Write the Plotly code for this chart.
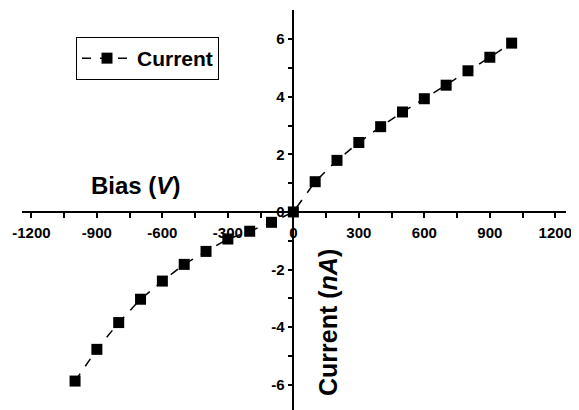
import plotly.graph_objects as go

bias = [-1000, -900, -800, -700, -600, -500, -400, -300, -200, -100, 0,
        100, 200, 300, 400, 500, 600, 700, 800, 900, 1000]
current = [-5.87, -4.77, -3.84, -3.03, -2.40, -1.82, -1.37, -0.94, -0.67, -0.36, 0.0,
           1.05, 1.79, 2.41, 2.96, 3.47, 3.93, 4.40, 4.90, 5.37, 5.86]

x_tickvals = [-1200, -900, -600, -300, 0, 300, 600, 900, 1200]
x_ticktext = ["-1200", "-900", "-600", "-300", "0", "300", "600", "900", "1200"]
x_minor = [-1050, -750, -450, -150, 150, 450, 750, 1050]
y_tickvals = [-6, -4, -2, 0, 2, 4, 6]
y_ticktext = ["-6", "-4", "-2", "0", "2", "4", "6"]
y_minor = [-5, -3, -1, 1, 3, 5]

x_range = [-1243, 1249]
y_range = [-6.875, 7.01]

FONT = "Liberation Sans, Arial, sans-serif"

fig = go.Figure()
fig.add_trace(go.Scatter(
    x=bias, y=current, mode="lines+markers", name="Current",
    line=dict(color="black", width=1.5, dash="dash"),
    marker=dict(symbol="square", size=11, color="black"),
))

xpos = (0 - y_range[0]) / (y_range[1] - y_range[0])
ypos = (0 - x_range[0]) / (x_range[1] - x_range[0])

axis_common = dict(
    showgrid=False, zeroline=False, showline=True, linecolor="black", linewidth=1.5,
    ticks="outside", ticklen=5, tickwidth=1.5, tickcolor="black",
    tickfont=dict(family=FONT, size=15, color="black", weight="bold"),
    anchor="free", tickmode="array",
)

# page body has an 8px margin, so the figure is offset by 8px
W, H = 571, 402
ml, mr, mt, mb = 14, 13, 2, 0
pw, ph = W - ml - mr, H - mt - mb

def px_x(p):
    return (p - 8 - ml) / pw

def px_y(p):
    return 1 - (p - 8 - mt) / ph

fig.update_layout(
    width=W, height=H,
    margin=dict(l=ml, r=mr, t=mt, b=mb),
    paper_bgcolor="white", plot_bgcolor="white",
    xaxis=dict(range=x_range, tickvals=x_tickvals, ticktext=x_ticktext, position=xpos,
               ticklabelstandoff=2,
               minor=dict(tickvals=x_minor, ticks="outside", ticklen=5, tickwidth=1.5, tickcolor="black"),
               **axis_common),
    yaxis=dict(range=y_range, tickvals=y_tickvals, ticktext=y_ticktext, position=ypos,
               minor=dict(tickvals=y_minor, ticks="outside", ticklen=5, tickwidth=1.5, tickcolor="black"),
               **axis_common),
    showlegend=True,
    legend=dict(x=px_x(76), y=px_y(37), xanchor="left", yanchor="top",
                bordercolor="black", borderwidth=1, bgcolor="white", itemwidth=50,
                font=dict(family=FONT, size=21, color="black", weight="bold")),
    annotations=[
        dict(text="Bias (<i>V</i>)", xref="paper", yref="paper", x=px_x(135), y=px_y(186),
             showarrow=False, xanchor="center", yanchor="middle",
             font=dict(family=FONT, size=24, color="black", weight="bold")),
        dict(text="Current (<i>nA</i>)", xref="paper", yref="paper", x=px_x(328), y=px_y(323),
             showarrow=False, xanchor="center", yanchor="middle", textangle=-90,
             font=dict(family=FONT, size=25, color="black", weight="bold")),
    ],
)

fig.write_html("out.html")
